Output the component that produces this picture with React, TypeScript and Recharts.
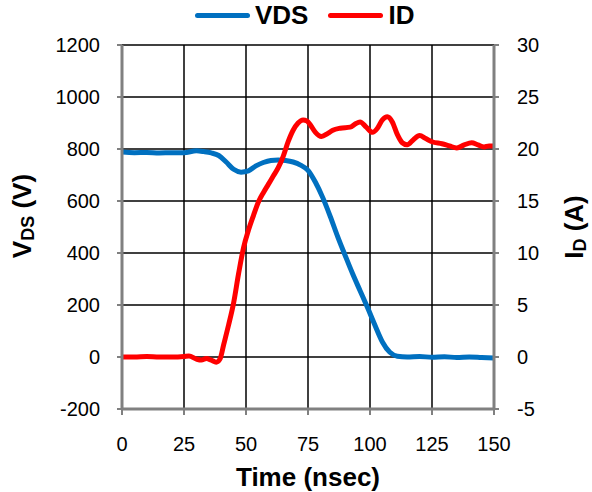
import React from 'react';
import { LineChart, Line, XAxis, YAxis, CartesianGrid, Legend } from 'recharts';

const timeTicks = [0, 25, 50, 75, 100, 125, 150];
const vdsTicks = [-200, 0, 200, 400, 600, 800, 1000, 1200];
const idTicks = [-5, 0, 5, 10, 15, 20, 25, 30];

const vdsTime = [0, 5, 10, 15, 20, 25, 30, 33, 36, 39, 42, 45, 48, 51, 54, 57, 60, 63, 66, 69, 72, 75, 78, 81, 84, 87, 90, 93, 96, 99, 102, 105, 108, 111, 115, 120, 125, 130, 135, 140, 145, 150];
const vdsValues = [788, 786, 787, 785, 786, 786, 793, 790, 785, 775, 750, 722, 711, 716, 735, 748, 756, 758, 756, 750, 738, 718, 672, 612, 540, 462, 390, 320, 255, 190, 122, 58, 18, 3, 0, 2, -1, 1, -2, 0, -2, -4];

const idTime = [0, 5, 10, 15, 20, 25, 27, 30, 32, 34, 36, 38, 39.5, 41, 43, 45, 47, 49, 51, 53, 55, 57, 59, 61, 63, 65, 67, 69, 71, 73, 74.5, 76, 78, 80.4, 83, 85, 88, 92, 94, 96, 98.5, 101, 103, 105, 107, 109, 111, 113, 115, 117.5, 120, 122.5, 125, 129, 132, 135, 138, 141, 143.5, 146, 148, 150];
const idValues = [0, 0, 0.05, 0, 0, 0.05, 0.1, -0.2, -0.3, -0.15, -0.3, -0.5, -0.2, 1.2, 3.1, 5.2, 8.0, 10.5, 12.2, 13.6, 14.9, 15.8, 16.6, 17.4, 18.2, 19.3, 20.7, 21.8, 22.5, 22.8, 22.7, 22.3, 21.6, 21.2, 21.5, 21.8, 22.0, 22.1, 22.4, 22.6, 22.1, 21.6, 22.0, 22.8, 23.1, 22.6, 21.4, 20.6, 20.4, 20.9, 21.3, 21.0, 20.7, 20.5, 20.3, 20.1, 20.4, 20.6, 20.4, 20.2, 20.3, 20.3];

const vdsData = vdsTime.map((t, i) => ({ t, vds: vdsValues[i] }));
const idData = idTime.map((t, i) => ({ t, id: idValues[i] }));

const FONT = '"Liberation Sans", Arial, sans-serif';
const BLUE = '#0070C0';
const RED = '#FF0000';

const LegendContent = () => (
  <div style={{ height: 30, display: 'flex', alignItems: 'center', fontFamily: FONT, fontWeight: 'bold', fontSize: 26, color: '#000', paddingLeft: 195, boxSizing: 'border-box' }}>
    <span style={{ display: 'inline-block', width: 55, height: 5, borderRadius: 3, background: BLUE, marginRight: 5 }} />
    <span style={{ lineHeight: '30px' }}>VDS</span>
    <span style={{ display: 'inline-block', width: 55, height: 5, borderRadius: 3, background: RED, marginLeft: 20, marginRight: 5 }} />
    <span style={{ lineHeight: '30px' }}>ID</span>
  </div>
);

const LeftTitle = () => (
  <text x={22} y={216} transform="rotate(-90 22 216)" textAnchor="middle" dominantBaseline="central" fontFamily={FONT} fontWeight="bold" fontSize={26} fill="#000">
    V<tspan fontSize={18} dy={6}>DS</tspan><tspan dy={-6}> (V)</tspan>
  </text>
);

const RightTitle = () => (
  <text x={574} y={227} transform="rotate(-90 574 227)" textAnchor="middle" dominantBaseline="central" fontFamily={FONT} fontWeight="bold" fontSize={26} fill="#000">
    I<tspan fontSize={18} dy={6}>D</tspan><tspan dy={-6}> (A)</tspan>
  </text>
);

const BottomTitle = () => (
  <text x={308} y={477} textAnchor="middle" dominantBaseline="central" fontFamily={FONT} fontWeight="bold" fontSize={26} fill="#000">
    Time (nsec)
  </text>
);

const tickStyle = { fontSize: 20, fill: '#000', fontFamily: FONT };
const axisLineStyle = { stroke: '#808080', strokeWidth: 3 };
const tickLineStyle = { stroke: '#808080', strokeWidth: 2 };

export default function App() {
  return (
    <div style={{ position: 'absolute', left: 0, top: 0, width: 592, height: 492, background: '#fff' }}>
      <LineChart width={592} height={492} margin={{ top: 15, right: 0, bottom: 0, left: 0 }} style={{ fontFamily: FONT }}>
        <Legend verticalAlign="top" align="left" wrapperStyle={{ top: 0, left: 0, width: 592, height: 30 }} content={() => <LegendContent />} />
        <CartesianGrid yAxisId="left" stroke="#000" strokeWidth={1.5} />
        <XAxis
          dataKey="t"
          type="number"
          domain={[0, 150]}
          ticks={timeTicks}
          allowDataOverflow
          height={83}
          tick={tickStyle}
          tickSize={6}
          tickMargin={22}
          axisLine={axisLineStyle}
          tickLine={tickLineStyle}
          label={{ content: () => <BottomTitle /> }}
        />
        <YAxis
          yAxisId="left"
          orientation="left"
          type="number"
          domain={[-200, 1200]}
          ticks={vdsTicks}
          allowDataOverflow
          width={122}
          tick={tickStyle}
          tickSize={5}
          tickMargin={17}
          axisLine={axisLineStyle}
          tickLine={tickLineStyle}
          label={{ content: () => <LeftTitle /> }}
        />
        <YAxis
          yAxisId="right"
          orientation="right"
          type="number"
          domain={[-5, 30]}
          ticks={idTicks}
          allowDataOverflow
          width={98}
          tick={tickStyle}
          tickSize={5}
          tickMargin={18}
          axisLine={axisLineStyle}
          tickLine={tickLineStyle}
          label={{ content: () => <RightTitle /> }}
        />
        <Line yAxisId="left" data={vdsData} dataKey="vds" type="monotone" stroke={BLUE} strokeWidth={5} dot={false} isAnimationActive={false} />
        <Line yAxisId="right" data={idData} dataKey="id" type="monotone" stroke={RED} strokeWidth={5} dot={false} isAnimationActive={false} />
      </LineChart>
    </div>
  );
}
